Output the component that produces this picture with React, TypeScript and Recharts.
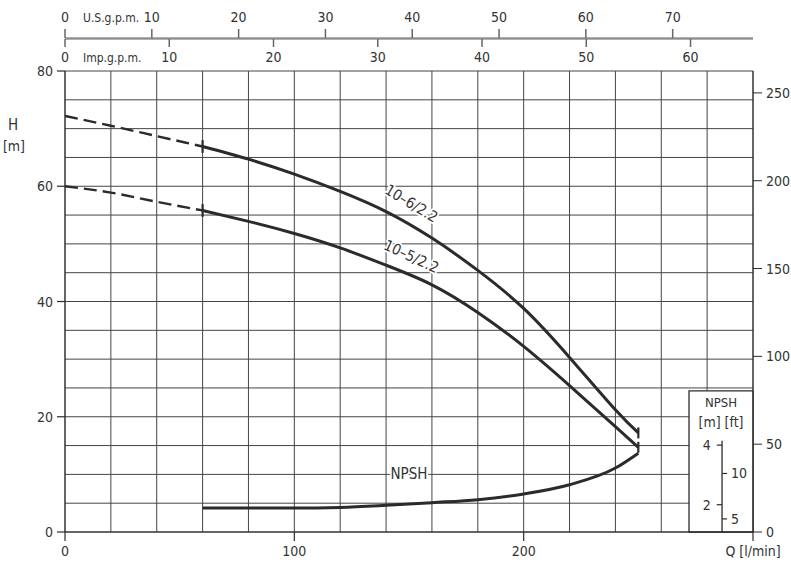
import React from 'react';
import { ComposedChart, Line, XAxis, YAxis, CartesianGrid, ReferenceLine, ReferenceArea, ReferenceDot } from 'recharts';

const FONT = "'DejaVu Sans Condensed', 'Liberation Sans Narrow', Roboto, sans-serif";
const INK = '#2b2b2b';
const TEXT = '#333';
const GRID = '#454545';

const US_GAL = 3.78541;
const IMP_GAL = 4.54609;
const M_TO_FT = 3.28084;

// flow Q [l/min]
const qDashed = [0, 20, 40, 60];
const qSolid = [60, 80, 100, 120, 140, 160, 180, 200, 220, 240, 250];

// head H [m]
const h106Dashed = [72.2, 70.5, 68.7, 66.9];
const h106Solid = [66.9, 64.7, 62.1, 59.1, 55.6, 51.0, 45.4, 38.8, 30.3, 21.2, 17.2];
const h105Dashed = [60.0, 58.9, 57.3, 55.8];
const h105Solid = [55.8, 53.9, 51.8, 49.3, 46.3, 42.9, 38.1, 32.2, 25.4, 18.3, 14.7];

// NPSH [m]
const npshM = [1.89, 1.89, 1.89, 1.91, 1.98, 2.07, 2.17, 2.36, 2.67, 3.23, 3.73];

// ticks
const qTicks = [0, 20, 40, 60, 80, 100, 120, 140, 160, 180, 200, 220, 240, 260, 280, 300];
const hTicks = [0, 5, 10, 15, 20, 25, 30, 35, 40, 45, 50, 55, 60, 65, 70, 75, 80];
const ftTicks = [0, 50, 100, 150, 200, 250];
const usTicks = [0, 10, 20, 30, 40, 50, 60, 70];
const impTicks = [0, 10, 20, 30, 40, 50, 60];
const npshMTicks = [2, 4];
const npshFtTicks = [5, 10];

const toRows = (qs: number[], vs: number[]) => qs.map((q, i) => ({ q, v: vs[i] }));

const dashed106 = toRows(qDashed, h106Dashed);
const solid106 = toRows(qSolid, h106Solid);
const dashed105 = toRows(qDashed, h105Dashed);
const solid105 = toRows(qSolid, h105Solid);
const npshRows = toRows(qSolid, npshM);

const txt = { fill: TEXT, fontSize: 14, fontFamily: FONT };

const UsTick = ({ x, y, payload }: any) => (
  <g>
    <line x1={x} y1={y} x2={x} y2={y - 9} stroke="#666" strokeWidth={1.5} />
    <text x={x} y={y - 16.5} textAnchor="middle" {...txt}>{Math.round(payload.value / US_GAL)}</text>
  </g>
);

const ImpTick = ({ x, y, payload }: any) => (
  <g>
    <line x1={x} y1={y} x2={x} y2={y + 8} stroke="#666" strokeWidth={1.5} />
    <text x={x} y={y + 22.5} textAnchor="middle" {...txt}>{Math.round(payload.value / IMP_GAL)}</text>
  </g>
);

const QTick = ({ x, y, payload }: any) => {
  const v = payload.value;
  if (v % 100 !== 0) return <g />;
  return (
    <g>
      <line x1={x} y1={y} x2={x} y2={y + 9} stroke={INK} strokeWidth={1.2} />
      {v < 300 && <text x={x} y={y + 24} textAnchor="middle" {...txt}>{v}</text>}
    </g>
  );
};

const HTick = ({ x, y, payload }: any) => {
  const v = payload.value;
  if (v % 20 !== 0) return <g />;
  return (
    <g>
      <line x1={x - 8} y1={y} x2={x} y2={y} stroke={INK} strokeWidth={1.2} />
      <text x={x - 12} y={y + 5} textAnchor="end" {...txt}>{v}</text>
    </g>
  );
};

const curveLabel = (text: string, angle: number) => ({ viewBox }: any) => {
  const cx = viewBox.x + (viewBox.width || 0) / 2;
  const cy = viewBox.y + (viewBox.height || 0) / 2;
  return (
    <text
      x={cx}
      y={cy}
      textAnchor="middle"
      dominantBaseline="central"
      transform={`rotate(${angle} ${cx} ${cy})`}
      stroke="#fff"
      strokeWidth={3.5}
      strokeLinejoin="round"
      paintOrder="stroke"
      {...txt}
      fontSize={15}
    >
      {text}
    </text>
  );
};

const InsetTitle = ({ viewBox }: any) => {
  const cx = viewBox.x + viewBox.width / 2;
  return (
    <g>
      <text x={cx} y={viewBox.y + 16} textAnchor="middle" {...txt} fontSize={13}>NPSH</text>
      <text x={cx} y={viewBox.y + 36} textAnchor="middle" {...txt} fontSize={14}>[m]  [ft]</text>
    </g>
  );
};

const NPSH_AXIS_Q = 286.5;

export default function App() {
  return (
    <div style={{ position: 'absolute', left: 0, top: 0, width: 791, height: 563, background: '#fff' }}>
      <div style={{ position: 'absolute', left: 0, top: 0 }}>
        <ComposedChart width={791} height={563} margin={{ top: 71, right: 0, bottom: 0, left: 5 }}>
          <CartesianGrid stroke={GRID} strokeWidth={1} />
          <XAxis
            dataKey="q"
            type="number"
            domain={[0, 300]}
            allowDataOverflow
            ticks={qTicks}
            interval={0}
            height={31}
            tickSize={0}
            tickMargin={0}
            tickLine={false}
            axisLine={{ stroke: INK }}
            tick={<QTick />}
            label={{
              content: ({ viewBox }: any) => (
                <text x={viewBox.x + viewBox.width} y={556} textAnchor="middle" {...txt}>Q [l/min]</text>
              ),
            }}
          />
          <YAxis
            type="number"
            domain={[0, 80]}
            allowDataOverflow
            ticks={hTicks}
            interval={0}
            width={60}
            tickSize={0}
            tickMargin={0}
            tickLine={false}
            axisLine={{ stroke: INK }}
            tick={<HTick />}
            label={{
              content: () => (
                <g>
                  <text x={13} y={130} textAnchor="middle" {...txt} fontSize={15}>H</text>
                  <text x={14} y={151} textAnchor="middle" {...txt}>[m]</text>
                </g>
              ),
            }}
          />
          <YAxis
            yAxisId="ft"
            orientation="right"
            type="number"
            domain={[0, 80 * M_TO_FT]}
            allowDataOverflow
            ticks={ftTicks}
            interval={0}
            width={38}
            tickSize={9}
            tickMargin={4}
            tickLine={{ stroke: INK }}
            axisLine={{ stroke: INK }}
            tick={txt}
          />
          <YAxis yAxisId="npsh" hide type="number" domain={[1.085, 16.55]} allowDataOverflow />

          <ReferenceArea
            x1={272.1}
            x2={300}
            y1={0}
            y2={24.5}
            fill="#fff"
            fillOpacity={1}
            stroke={INK}
            strokeWidth={1.3}
            ifOverflow="visible"
            label={{ content: InsetTitle }}
          />
          <ReferenceLine
            yAxisId="npsh"
            segment={[{ x: NPSH_AXIS_Q, y: 4.15 }, { x: NPSH_AXIS_Q, y: 1.085 }]}
            stroke={INK}
            strokeWidth={1.3}
            ifOverflow="visible"
          />
          {npshMTicks.map((v) => (
            <ReferenceLine
              key={`m${v}`}
              yAxisId="npsh"
              segment={[{ x: 284.2, y: v }, { x: NPSH_AXIS_Q, y: v }]}
              stroke={INK}
              strokeWidth={1.2}
              ifOverflow="visible"
              label={{ value: String(v), position: 'left', offset: 6, ...txt }}
            />
          ))}
          {npshFtTicks.map((v) => (
            <ReferenceLine
              key={`ft${v}`}
              yAxisId="npsh"
              segment={[{ x: NPSH_AXIS_Q, y: v / M_TO_FT }, { x: 288.7, y: v / M_TO_FT }]}
              stroke={INK}
              strokeWidth={1.2}
              ifOverflow="visible"
              label={{ value: String(v), position: 'right', offset: 4, ...txt }}
            />
          ))}

          <Line data={dashed106} dataKey="v" type="monotone" stroke={INK} strokeWidth={2.4} strokeDasharray="13 6" dot={false} isAnimationActive={false} />
          <Line data={dashed105} dataKey="v" type="monotone" stroke={INK} strokeWidth={2.4} strokeDasharray="13 6" dot={false} isAnimationActive={false} />
          <Line data={solid106} dataKey="v" type="natural" stroke={INK} strokeWidth={3} dot={false} isAnimationActive={false} />
          <Line data={solid105} dataKey="v" type="natural" stroke={INK} strokeWidth={3} dot={false} isAnimationActive={false} />
          <Line data={npshRows} dataKey="v" yAxisId="npsh" type="monotone" stroke={INK} strokeWidth={3} dot={false} isAnimationActive={false} />

          {[h106Solid, h105Solid].map((hs, i) => (
            <ReferenceLine
              key={`start${i}`}
              segment={[{ x: qSolid[0], y: hs[0] - 1.1 }, { x: qSolid[0], y: hs[0] + 1.1 }]}
              stroke={INK}
              strokeWidth={2.2}
            />
          ))}
          {[h106Solid, h105Solid].map((hs, i) => (
            <ReferenceLine
              key={`end${i}`}
              segment={[
                { x: qSolid[qSolid.length - 1], y: hs[hs.length - 1] - 0.95 },
                { x: qSolid[qSolid.length - 1], y: hs[hs.length - 1] + 0.95 },
              ]}
              stroke={INK}
              strokeWidth={2.2}
            />
          ))}

          <ReferenceDot x={151} y={57.0} r={0} fill="none" stroke="none" label={{ content: curveLabel('10\u20136/2.2', 31) }} />
          <ReferenceDot x={151} y={47.8} r={0} fill="none" stroke="none" label={{ content: curveLabel('10\u20135/2.2', 25) }} />
          <ReferenceDot x={150} y={10} r={0} fill="none" stroke="none" label={{ content: curveLabel('NPSH', 0) }} />
        </ComposedChart>
      </div>

      <div style={{ position: 'absolute', left: 0, top: 0 }}>
        <ComposedChart data={solid106} width={791} height={71} margin={{ top: 0, right: 38, bottom: 0, left: 65 }}>
          <XAxis
            xAxisId="us"
            dataKey="q"
            orientation="top"
            type="number"
            domain={[0, 300]}
            allowDataOverflow
            ticks={usTicks.map((g) => g * US_GAL)}
            interval={0}
            height={38}
            tickSize={0}
            tickMargin={0}
            tickLine={false}
            axisLine={{ stroke: '#666', strokeWidth: 1.2 }}
            tick={<UsTick />}
            label={{ content: () => <text x={83} y={21.5} {...txt} fontSize={12}>U.S.g.p.m.</text> }}
          />
          <XAxis
            xAxisId="imp"
            dataKey="q"
            orientation="bottom"
            type="number"
            domain={[0, 300]}
            allowDataOverflow
            ticks={impTicks.map((g) => g * IMP_GAL)}
            interval={0}
            height={32}
            tickSize={0}
            tickMargin={0}
            tickLine={false}
            axisLine={{ stroke: '#666', strokeWidth: 1.2 }}
            tick={<ImpTick />}
            label={{ content: () => <text x={83} y={61.5} {...txt} fontSize={12}>Imp.g.p.m.</text> }}
          />
          <YAxis hide type="number" domain={[0, 1]} allowDataOverflow />
        </ComposedChart>
      </div>
    </div>
  );
}
